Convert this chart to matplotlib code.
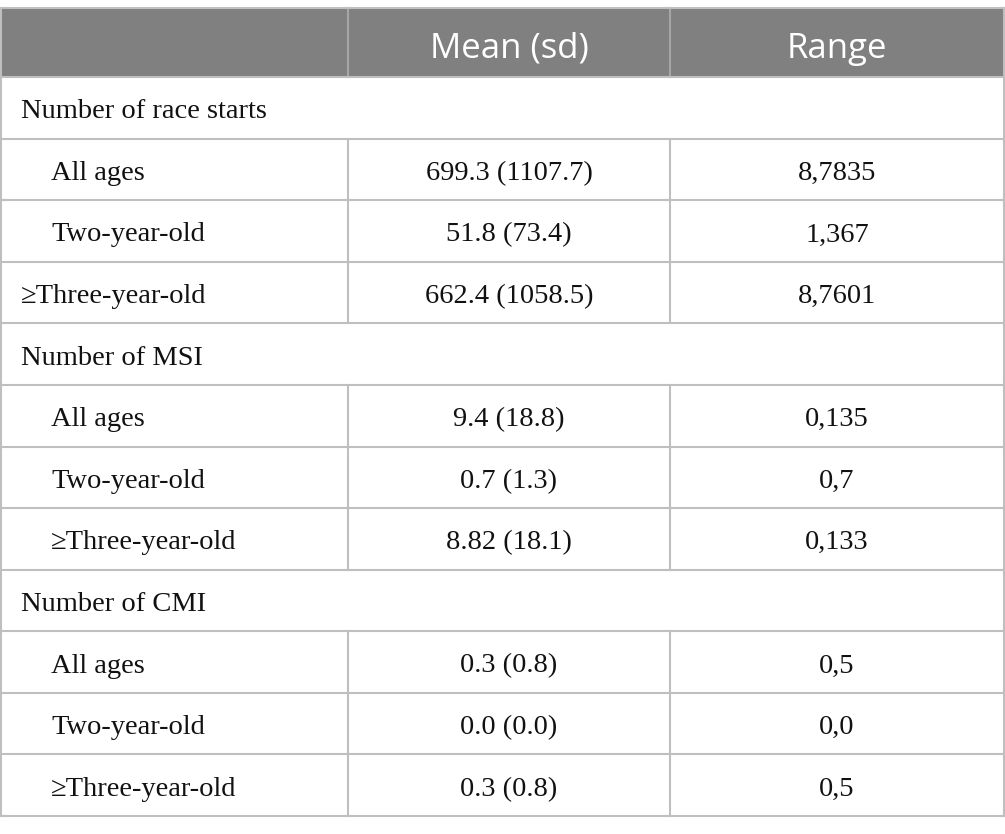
import matplotlib
matplotlib.use("Agg")
import matplotlib.pyplot as plt

# table content
header = ["", "Mean (sd)", "Range"]
labels = ["Number of race starts", "All ages", "Two-year-old", "\u2265Three-year-old",
          "Number of MSI", "All ages", "Two-year-old", "\u2265Three-year-old",
          "Number of CMI", "All ages", "Two-year-old", "\u2265Three-year-old"]
means = ["", "699.3 (1107.7)", "51.8 (73.4)", "662.4 (1058.5)",
         "", "9.4 (18.8)", "0.7 (1.3)", "8.82 (18.1)",
         "", "0.3 (0.8)", "0.0 (0.0)", "0.3 (0.8)"]
ranges = ["", "8,7835", "1,367", "8,7601",
          "", "0,135", "0,7", "0,133",
          "", "0,5", "0,0", "0,5"]
section = [True, False, False, False, True, False, False, False, True, False, False, False]
indent = [False, True, True, False, False, True, True, True, False, True, True, True]

W, H = 1005, 834
fig = plt.figure(figsize=(W / 100, H / 100), dpi=100)
ax = fig.add_axes([0, 0, 1, 1])
ax.set_xlim(0, W)
ax.set_ylim(H, 0)
ax.axis("off")

left, right = 1, 1004
cols = [left, 348, 670, right]
top, head_bot = 8, 77
row_h = (816 - head_bot) / len(labels)
grid = "#bfbfbf"
serif = ["Liberation Serif", "DejaVu Serif"]
sans = ["Open Sans", "DejaVu Sans"]
ink = "#111111"

# header band
ax.fill_between([left, right], top, head_bot, color="#808080", lw=0)
for x in cols[1:-1]:
    ax.plot([x, x], [top, head_bot], color="#a6a6a6", lw=1.5)
for j, h in enumerate(header):
    if h:
        ax.text((cols[j] + cols[j + 1]) / 2, (top + head_bot) / 2 + 6, h,
                ha="center", va="center", color="white", fontsize=25, family=sans)
ax.plot([left, right], [top, top], color=grid, lw=1.5)

# body rows
for i, lab in enumerate(labels):
    y0 = head_bot + i * row_h
    y1 = y0 + row_h
    yc = (y0 + y1) / 2 + 4
    ax.plot([left, right], [y1, y1], color=grid, lw=1.5)
    if not section[i]:
        for x in cols[1:-1]:
            ax.plot([x, x], [y0, y1], color=grid, lw=1.5)
    xt = 51 if indent[i] else 21
    ax.text(xt, yc, lab, ha="left", va="center", fontsize=20.5, family=serif, color=ink)
    ax.text((cols[1] + cols[2]) / 2, yc, means[i], ha="center", va="center",
            fontsize=20.5, family=serif, color=ink)
    ax.text((cols[2] + cols[3]) / 2, yc, ranges[i], ha="center", va="center",
            fontsize=20.5, family=serif, color=ink)

ax.plot([left, left], [top, 816], color=grid, lw=1.5)
ax.plot([right, right], [top, 816], color=grid, lw=1.5)
ax.plot([left, right], [head_bot, head_bot], color=grid, lw=1.5)

fig.savefig("out.png", dpi=100)
